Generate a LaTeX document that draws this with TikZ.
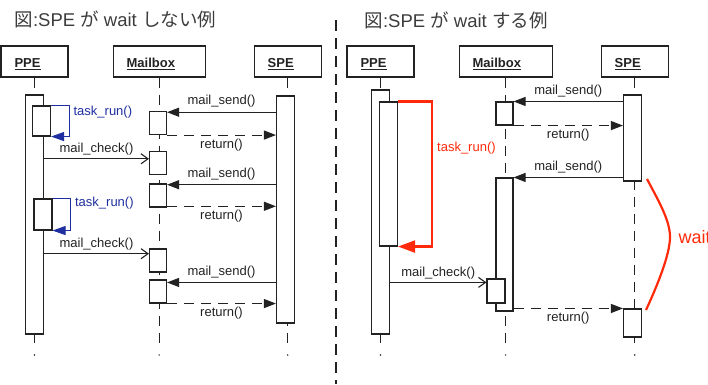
\documentclass[tikz,border=0pt]{standalone}
\usepackage{fontspec}
\setmainfont{Liberation Sans}
\newfontfamily\cjk{Noto Sans CJK JP}
\usepackage{tikz}
\usetikzlibrary{positioning, arrows.meta}

\definecolor{ink}{HTML}{222222}
\definecolor{titlegray}{HTML}{3C3C3C}
\definecolor{callblue}{HTML}{1F2F9F}
\definecolor{waitred}{HTML}{FF2A0A}

\begin{document}
\begin{tikzpicture}[
    x=1pt, y=-1pt,
    every node/.style={font=\fontsize{13}{15}\selectfont, text=ink},
    head/.style={draw=ink, line width=1.1pt, fill=white, minimum height=31pt, text width=#1,
                 text height=12pt, text depth=0pt,
                 inner xsep=13.5pt, align=left, font=\fontsize{13}{15}\selectfont\bfseries},
    act/.style={draw=ink, line width=1.1pt, fill=white, minimum width=18pt, inner sep=0pt},
    mbox/.style={act, minimum width=17pt, minimum height=23pt},
    figtitle/.style={anchor=west, text=titlegray, font=\fontsize{18.5}{22}\selectfont},
    lbl/.style={inner sep=2pt},
    life/.style={draw=ink, line width=1.1pt, dash pattern=on 10pt off 7pt},
    msg/.style={-{Triangle[length=12pt, width=9pt]}, draw=ink, line width=1.1pt},
    ret/.style={msg, dash pattern=on 10pt off 7pt},
    call/.style={-{Straight Barb[length=7pt, width=10pt]}, draw=ink, line width=1.1pt},
    selfblue/.style={-{Triangle[length=13pt, width=9pt]}, draw=callblue, line width=1.1pt},
    selfred/.style={-{Triangle[length=17pt, width=12pt]}, draw=waitred, line width=2.2pt},
    divider/.style={draw=ink, line width=1.1pt, dash pattern=on 11pt off 7pt},
]
\useasboundingbox (0,0) rectangle (708,384);

% --- Titles and divider ---
\node[figtitle] (titleL) at (11,19) {{\cjk 図}:SPE {\cjk が} wait {\cjk しない例}};
\node[figtitle] (titleR) at (361,20) {{\cjk 図}:SPE {\cjk が} wait {\cjk する例}};
\coordinate (divTop) at (336,20);
\coordinate (divBot) at (336,384);
\draw[divider] (divTop) -- (divBot);

% --- Heads ---
\node[head=40pt]                  (ppeL) at (34.5,61.5) {\underline{PPE}};
\node[head=65pt, right=44pt of ppeL] (mbL)  {\underline{Mailbox}};
\node[head=40pt, right=48pt of mbL]  (speL) {\underline{SPE}};
\node[head=40pt]                  (ppeR) at (380.5,61.5) {\underline{PPE}};
\node[head=66pt, right=44pt of ppeR] (mbR)  {\underline{Mailbox}};
\node[head=40pt, right=48pt of mbR]  (speR) {\underline{SPE}};

% --- Lifelines ---
\coordinate (lifeEnd) at (0,346);
\coordinate (dotRow) at (0,355);
\draw[life] (ppeL.south) -- (ppeL.south |- lifeEnd);
\draw[life] (mbL.south)  -- (mbL.south |- lifeEnd);
\draw[life] (speL.south) -- (speL.south |- lifeEnd);
\draw[life] (ppeR.south) -- (ppeR.south |- lifeEnd);
\draw[life] (mbR.south)  -- (mbR.south |- lifeEnd);
\draw[life] (speR.south) -- (speR.south |- lifeEnd);
\fill[ink] (ppeL.south |- dotRow) circle (0.8pt);
\fill[ink] (mbL.south |- dotRow) circle (0.8pt);
\fill[ink] (speL.south |- dotRow) circle (0.8pt);
\fill[ink] (ppeR.south |- dotRow) circle (0.8pt);
\fill[ink] (mbR.south |- dotRow) circle (0.8pt);
\fill[ink] (speR.south |- dotRow) circle (0.8pt);

% --- Left: SPE does not wait ---
\node[act, minimum height=239pt] (ppeActL) at (34.5,214.5) {};
\node[act, minimum height=30pt]  (taskL1)  at (41.5,121) {};
\node[act, minimum height=31pt]  (taskL2)  at (43,214.5) {};
\node[act, minimum height=227pt] (speActL) at (285.5,209.5) {};
\node[mbox] (mbBoxL1) at (158,123) {};
\node[mbox] (mbBoxL2) at (158,163) {};
\node[mbox] (mbBoxL3) at (158,195.5) {};
\node[mbox] (mbBoxL4) at (158,260.5) {};
\node[mbox] (mbBoxL5) at (158,291.5) {};

\draw[msg] (speActL.west |- mbBoxL1.50) -- (mbBoxL1.50) node[lbl, midway, above=2pt] (sendL1) {mail\_send()};
\draw[ret] (mbBoxL1.south east) -- (speActL.west |- mbBoxL1.south east) node[lbl, midway, below=1pt] (retL1) {return()};
\draw[call] (ppeActL.east |- mbBoxL2.155) -- (mbBoxL2.155) node[lbl, midway, above=1pt] (checkL1) {mail\_check()};
\draw[msg] (speActL.west |- mbBoxL3.50) -- (mbBoxL3.50) node[lbl, midway, above=2pt] (sendL2) {mail\_send()};
\draw[ret] (mbBoxL3.-50) -- (speActL.west |- mbBoxL3.-50) node[lbl, midway, below=1pt] (retL2) {return()};
\draw[call] (ppeActL.east |- mbBoxL4.143) -- (mbBoxL4.143) node[lbl, midway, above=1pt] (checkL2) {mail\_check()};
\draw[msg] (speActL.west |- mbBoxL5.45) -- (mbBoxL5.45) node[lbl, midway, above=2pt] (sendL3) {mail\_send()};
\draw[ret] (mbBoxL5.south east) -- (speActL.west |- mbBoxL5.south east) node[lbl, midway, below=1pt] (retL3) {return()};

\draw[selfblue] (taskL1.north east) -- ++(18,0) |- node[lbl, pos=0.1, right=2pt, text=callblue] (taskLblL1) {task\_run()} (taskL1.south east);
\draw[selfblue] (taskL2.north east) -- ++(18,0) |- node[lbl, pos=0.08, right=2pt, text=callblue] (taskLblL2) {task\_run()} (taskL2.south east);

% --- Right: SPE waits ---
\node[act, minimum height=244pt] (ppeActR) at (380.5,212) {};
\node[act, minimum height=144pt] (taskR)   at (388.5,174) {};
\node[mbox] (mbBoxR1) at (504.5,113.5) {};
\node[act, minimum width=17pt, minimum height=133pt] (mbActR) at (504.5,244.5) {};
\node[act, minimum height=24pt]  (mbBoxR2) at (496,291) {};
\node[act, minimum height=86pt]  (speActR) at (632.5,138) {};
\node[act, minimum height=28pt]  (speBoxR) at (632.5,323) {};

\draw[msg] (speActR.west |- mbBoxR1.north east) -- (mbBoxR1.north east) node[lbl, midway, above=2pt] (sendR1) {mail\_send()};
\draw[ret] (mbBoxR1.south east) -- (speActR.west |- mbBoxR1.south east) node[lbl, midway, below=1pt] (retR1) {return()};
\draw[msg] (speActR.west |- mbActR.north east) -- (mbActR.north east) node[lbl, midway, above=2pt] (sendR2) {mail\_send()};
\draw[call] (ppeActR.east |- mbBoxR2.138) -- (mbBoxR2.138) node[lbl, midway, above=1pt] (checkR) {mail\_check()};
\draw[ret] (mbActR.east |- speBoxR.north west) -- (speBoxR.north west) node[lbl, midway, below=1pt] (retR2) {return()};

\draw[selfred] (taskR.north east) -- ++(34,0) |- node[lbl, pos=0.16, right=2pt, text=waitred] (taskLblR) {task\_run()} (taskR.south east);

% --- wait brace ---
\coordinate (waitTop) at (647,179);
\coordinate (waitBot) at (646,310);
\draw[waitred, line width=2.2pt] (waitTop) .. controls (658,200) and (670,220) .. (670,237)
      .. controls (670,254) and (658,284) .. (waitBot);
\node[anchor=west, text=waitred, font=\fontsize{18}{22}\selectfont] (waitLbl) at (675,237) {wait};
\end{tikzpicture}
\end{document}
